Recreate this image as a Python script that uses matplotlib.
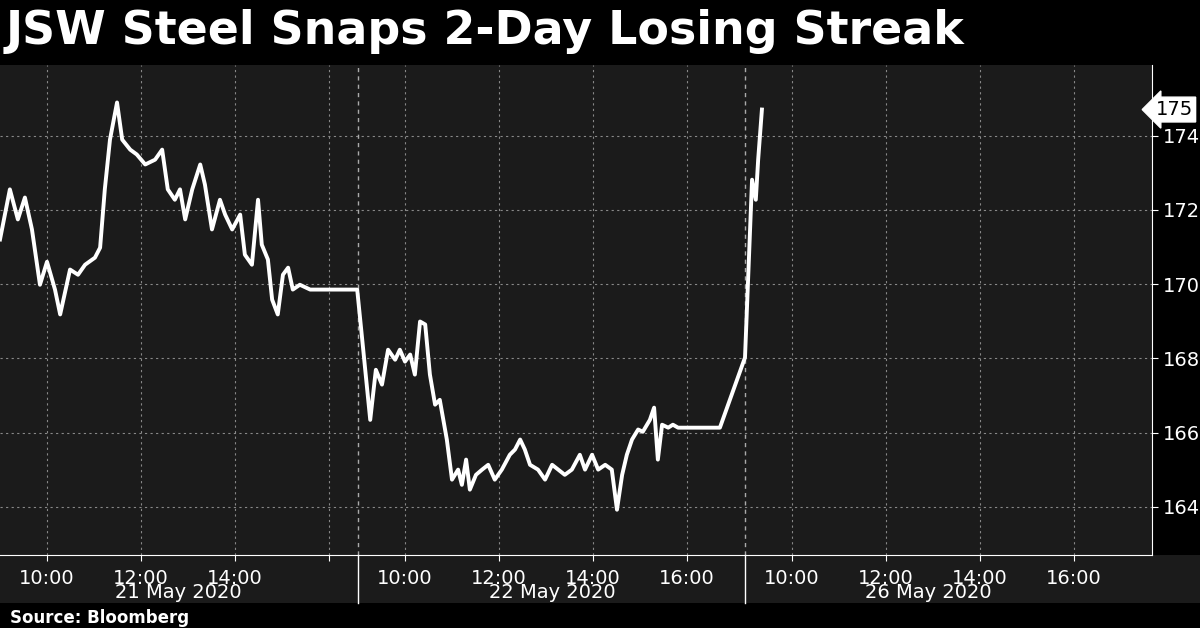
import matplotlib
matplotlib.use("Agg")
import matplotlib.pyplot as plt
from matplotlib.patches import Rectangle

# data: decimal hour of day, price
d1_t = [9.00,9.21,9.38,9.53,9.68,9.85,10.0,10.17,10.28,10.49,10.66,10.81,11.02,11.13,11.23,11.34,11.49,11.6,11.77,11.91,12.09,12.3,12.45,12.57,12.72,12.83,12.94,13.09,13.26,13.36,13.51,13.68,13.79,13.94,14.11,14.21,14.36,14.49,14.57,14.7,14.79,14.91,15.02,15.13,15.23,15.38,15.6,16.6]
d1_p = [171.2,172.55,171.74,172.33,171.47,169.98,170.6,169.85,169.18,170.39,170.25,170.52,170.71,170.98,172.55,173.89,174.89,173.89,173.62,173.49,173.22,173.35,173.62,172.55,172.27,172.55,171.74,172.55,173.22,172.68,171.47,172.27,171.87,171.47,171.87,170.79,170.52,172.27,171.06,170.66,169.58,169.18,170.25,170.44,169.85,169.98,169.85,169.85]
d2_t = [9.09,9.26,9.38,9.51,9.64,9.79,9.89,10.0,10.11,10.21,10.32,10.43,10.53,10.64,10.74,10.89,11.0,11.13,11.21,11.3,11.38,11.51,11.64,11.77,11.91,12.06,12.23,12.34,12.45,12.55,12.66,12.83,12.98,13.13,13.26,13.4,13.55,13.72,13.83,13.98,14.11,14.26,14.4,14.51,14.62,14.72,14.83,14.96,15.06,15.21,15.3,15.38,15.47,15.6,15.7,15.81,15.96,16.7]
d2_p = [168.5,166.34,167.69,167.29,168.23,167.96,168.23,167.91,168.1,167.56,168.99,168.91,167.56,166.75,166.88,165.81,164.73,165.0,164.59,165.27,164.46,164.86,165.0,165.13,164.73,165.0,165.4,165.54,165.81,165.54,165.13,165.0,164.73,165.13,165.0,164.86,165.0,165.4,165.0,165.4,165.0,165.13,165.0,163.92,164.86,165.4,165.81,166.08,166.02,166.34,166.67,165.27,166.21,166.13,166.21,166.13,166.13,166.13]
d3_t = [9.0,9.15,9.23,9.28,9.36]
d3_p = [168.02,172.81,172.27,173.35,174.7]
days = ["21 May 2020", "22 May 2020", "26 May 2020"]
tick_hours = [10, 12, 14, 16]
yticks = [164, 166, 168, 170, 172, 174]
last_price = 174.7

offsets = [0.0, 358/47, 745/47]
open_hr = 9.0

fig = plt.figure(figsize=(12, 6.28), dpi=100, facecolor="black")
band = fig.add_axes([0, 25/628, 1, 48/628], zorder=-5)
band.set_facecolor("#1b1b1b")
band.set_axis_off()
band.add_patch(Rectangle((0, 0), 1, 1, transform=band.transAxes, facecolor="#1b1b1b", edgecolor="none"))

ax = fig.add_axes([0, 73/628, 1152/1200, 490/628])
ax.set_facecolor("#1b1b1b")

xs, ys = [], []
for off, t, p in zip(offsets, [d1_t, d2_t, d3_t], [d1_p, d2_p, d3_p]):
    xs += [off + h - open_hr for h in t]
    ys += p
ax.plot(xs, ys, color="white", lw=2.8, solid_joinstyle="round", zorder=3)

ax.set_xlim(0, 1152/47)
ax.set_ylim(162.7, 175.9)

xt, xl = [], []
for i, off in enumerate(offsets):
    for h in tick_hours:
        xt.append(off + h - open_hr)
        xl.append("" if (i == 0 and h == 16) else f"{h}:00")
ax.set_xticks(xt)
ax.set_xticklabels(xl, color="white", fontsize=14)
ax.set_yticks(yticks)
ax.set_yticklabels([str(v) for v in yticks], color="white", fontsize=14)
ax.yaxis.tick_right()
ax.tick_params(axis="x", colors="white", length=4, direction="out", pad=6)
ax.tick_params(axis="y", colors="white", length=4, direction="out", pad=4)
ax.grid(True, color="#888888", ls=(0, (2, 3)), lw=0.8)
for s in ["top", "left"]:
    ax.spines[s].set_visible(False)
ax.spines["bottom"].set_color("white")
ax.spines["right"].set_color("white")

for off in offsets[1:]:
    ax.axvline(off, color="#aaaaaa", ls=(0, (3, 3)), lw=1)
    fig.add_artist(plt.Line2D([off*47/1200]*2, [25/628, 73/628], color="white", lw=1,
                              transform=fig.transFigure))

centers = [178, 552, 928]
for c, d in zip(centers, days):
    fig.text(c/1200, (628-592)/628, d, color="white", fontsize=14, ha="center", va="center")

ax.text(1.003, (last_price - 162.7)/(175.9 - 162.7), f"{last_price:.0f}", transform=ax.transAxes,
        color="black", fontsize=14, ha="left", va="center",
        bbox=dict(boxstyle="larrow,pad=0.15", fc="white", ec="white"))

fig.text(0.005, (628-32)/628, "JSW Steel Snaps 2-Day Losing Streak", color="white",
         fontsize=33, fontweight="bold", ha="left", va="center")
fig.text(0.008, 10/628, "Source: Bloomberg", color="white", fontsize=12,
         fontweight="bold", ha="left", va="center")

fig.savefig("out.png", dpi=100, facecolor="black")
